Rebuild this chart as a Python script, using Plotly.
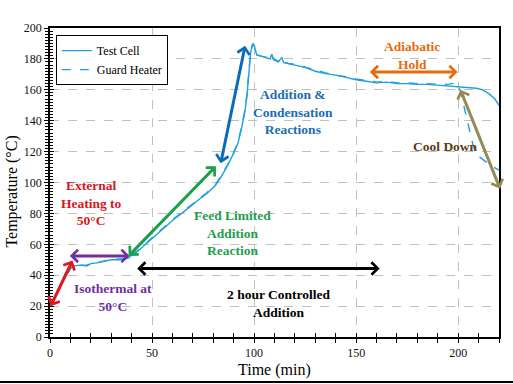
import plotly.graph_objects as go

# ---------------- data ----------------
test_t = [0, 2, 5, 8, 10.5, 12, 15, 18, 20, 23, 26, 30, 34, 37, 38.5, 40, 43, 46, 49,
          53, 57, 61, 65, 69, 73, 77, 81, 84, 87, 90, 92, 94, 95.5, 96.5, 97.5, 98.3,
          99, 99.5, 100.2, 101.3, 103, 105, 107.8, 108.7, 109.5, 111.9, 113.6, 114.5,
          117, 120, 125, 130, 135, 140, 145, 150, 155, 160, 165, 170, 175, 180, 185,
          190, 195, 200, 203, 206, 209, 212, 215, 218, 220]
test_T = [20, 25, 33, 40, 45, 46, 46.5, 46, 47.5, 48, 49, 50, 50, 50.5, 51, 53, 55.5, 59, 62.5,
          67, 72, 76.5, 80.5, 85, 89, 93, 98, 104, 111, 119, 125, 136, 146, 156, 172, 184,
          188, 190, 188, 182.5, 182, 181, 180, 183, 179.5, 178, 181, 177.5,
          177, 176, 174.5, 172, 170.5, 169.5, 168, 166.5, 165.5, 164.5, 165, 164, 164, 163.5, 163.5,
          163, 162.5, 162, 162, 161.5, 161, 160, 157.5, 154, 150]

guard_t = [0, 2, 5, 8, 10.5, 12, 15, 18, 20, 23, 26, 30, 34, 37, 38.5, 40, 43, 46, 49,
           53, 57, 61, 65, 69, 73, 77, 81, 84, 87, 90, 92, 94, 95.5, 96.5, 97.5, 98.3,
           99, 99.5, 100.2, 101.3, 103, 105, 107.8, 108.7, 109.5, 111.9, 113.6, 114.5,
           117, 120, 125, 130, 135, 140, 145, 150, 155, 160, 165, 170, 175, 180, 185,
           190, 195, 199, 201, 204.3, 207.5, 210, 212.4, 216, 220]
guard_T = [20, 25.5, 33, 40.5, 45, 46, 46.5, 46.5, 47.5, 48, 49, 50, 50.5, 50.5, 51, 53.5, 56, 59.5, 63,
           67.5, 72.5, 77, 81, 85.5, 89.5, 93.5, 98.5, 104.5, 111.5, 119.5, 125.5, 136.5, 147, 157, 173, 185,
           188.5, 190, 188, 183, 182, 181.5, 180.5, 182.5, 180, 178.5, 180.5, 178,
           177, 176.5, 174.5, 172.5, 171, 169.5, 168.5, 167, 166, 165, 165.5, 164.5, 164.5, 164, 164,
           163.5, 163.5, 164.5, 159.7, 140, 123, 117, 114.4, 111, 108]

x_ticks = [0, 50, 100, 150, 200]
y_ticks = [0, 20, 40, 60, 80, 100, 120, 140, 160, 180, 200]

SERIF = "Liberation Serif"
LINE_BLUE = "#1EA0E0"

fig = go.Figure()
fig.add_trace(go.Scatter(x=test_t, y=test_T, mode="lines", name="Test Cell",
                         line=dict(color=LINE_BLUE, width=1.4)))
fig.add_trace(go.Scatter(x=guard_t, y=guard_T, mode="lines", name="Guard Heater",
                         line=dict(color=LINE_BLUE, width=1.4, dash="dash")))
# dummy trace for overlay axes (crossing ticks)
fig.add_trace(go.Scatter(x=[None], y=[None], xaxis="x2", yaxis="y2", showlegend=False,
                         hoverinfo="skip"))

# ---------------- arrows ----------------
arrows = [
    # (x_head, y_head, x_tail, y_tail, color)
    (11, 49.5, 0, 19, "#E3161B"),
    (39, 52.5, 9, 52.5, "#7030A0"),
    (38.5, 52.5, 82, 111.5, "#18A14B"),
    (95.6, 188.5, 83.5, 111.5, "#0B6BB6"),
    (161.5, 44.3, 42, 44.3, "#000000"),
    (199.7, 171.5, 156, 171.5, "#E46C0A"),
    (220.5, 96, 200.8, 161, "#958B56"),
]
for xh, yh, xt, yt, col in arrows:
    fig.add_annotation(x=xh, y=yh, ax=xt, ay=yt, xref="x", yref="y", axref="x", ayref="y",
                       text="", showarrow=True, arrowside="end+start", arrowhead=4,
                       startarrowhead=4, arrowsize=0.8, startarrowsize=0.8,
                       arrowwidth=3, arrowcolor=col, standoff=0, startstandoff=0)

# ---------------- labels ----------------
labels = [
    ("External<br>Heating to<br>50°C", 20.5, 86.5, "#D7161C"),
    ("Isothermal at<br>50°C", 31, 25.5, "#7030A0"),
    ("Feed Limited<br>Addition<br>Reaction", 89.5, 67, "#1F9E4E"),
    ("Addition &amp;<br>Condensation<br>Reactions", 119, 145.5, "#1B6DB5"),
    ("Adiabatic<br>Hold", 177.5, 182, "#E46C0A"),
    ("Cool Down", 194, 123, "#5E3A12"),
    ("2 hour Controlled<br>Addition", 112, 21.5, "#000000"),
]
for txt, x, y, col in labels:
    fig.add_annotation(x=x, y=y, xref="x", yref="y", text="<b>" + txt + "</b>",
                       showarrow=False, align="center",
                       font=dict(family=SERIF, size=13.5, color=col))

# axis titles (placed as paper annotations)
fig.add_annotation(x=-0.085, y=0.47, xref="paper", yref="paper", text="Temperature (°C)",
                   textangle=-90, showarrow=False, xanchor="center", yanchor="middle",
                   font=dict(family=SERIF, size=16, color="#000000"))
fig.add_annotation(x=0.501, y=-0.107, xref="paper", yref="paper", text="Time (min)",
                   showarrow=False, xanchor="center", yanchor="middle",
                   font=dict(family=SERIF, size=16, color="#000000"))

# bottom frame line of the picture
fig.add_shape(type="line", xref="paper", yref="paper", x0=-0.12, x1=1.04,
              y0=-0.1456, y1=-0.1456, line=dict(color="#000000", width=2))

axis_common = dict(showline=True, linecolor="#000000", linewidth=1.5, mirror=True,
                   ticks="outside", ticklen=4, tickwidth=1.2, tickcolor="#000000",
                   tickfont=dict(family=SERIF, size=12, color="#111111"),
                   showgrid=True, gridcolor="#C0C0C0", griddash="dash", gridwidth=1,
                   zeroline=False, automargin=False)

fig.update_layout(
    width=513, height=384, autosize=False,
    margin=dict(l=50, r=14, t=28, b=47),
    paper_bgcolor="white", plot_bgcolor="white",
    showlegend=True,
    legend=dict(x=0.013, y=0.977, xanchor="left", yanchor="top",
                bgcolor="white", bordercolor="#000000", borderwidth=1,
                font=dict(family=SERIF, size=12, color="#000000"),
                tracegroupgap=0, itemwidth=30),
    xaxis=dict(range=[0, 220], tickvals=x_ticks, ticktext=[str(v) for v in x_ticks],
               minor=dict(dtick=10, ticks="outside", ticklen=4, tickcolor="#000000", showgrid=False),
               **axis_common),
    yaxis=dict(range=[0, 200], tickvals=y_ticks, ticktext=[str(v) for v in y_ticks],
               minor=dict(dtick=2, ticks="outside", ticklen=3, tickcolor="#000000", showgrid=False),
               **axis_common),
    xaxis2=dict(range=[0, 220], overlaying="x", anchor="y2", side="bottom",
                showticklabels=False, showgrid=False, zeroline=False, showline=False,
                automargin=False,
                tickvals=x_ticks, ticks="inside", ticklen=4, tickcolor="#000000",
                minor=dict(dtick=10, ticks="inside", ticklen=4, tickcolor="#000000")),
    yaxis2=dict(range=[0, 200], overlaying="y", anchor="x2", side="left",
                showticklabels=False, showgrid=False, zeroline=False, showline=False,
                automargin=False,
                tickvals=y_ticks, ticks="inside", ticklen=4, tickcolor="#000000",
                minor=dict(dtick=2, ticks="inside", ticklen=3, tickcolor="#000000")),
)

fig.write_html("out.html", config={"displayModeBar": False},
               post_script="document.body.style.margin='0';document.body.style.overflow='hidden';")
